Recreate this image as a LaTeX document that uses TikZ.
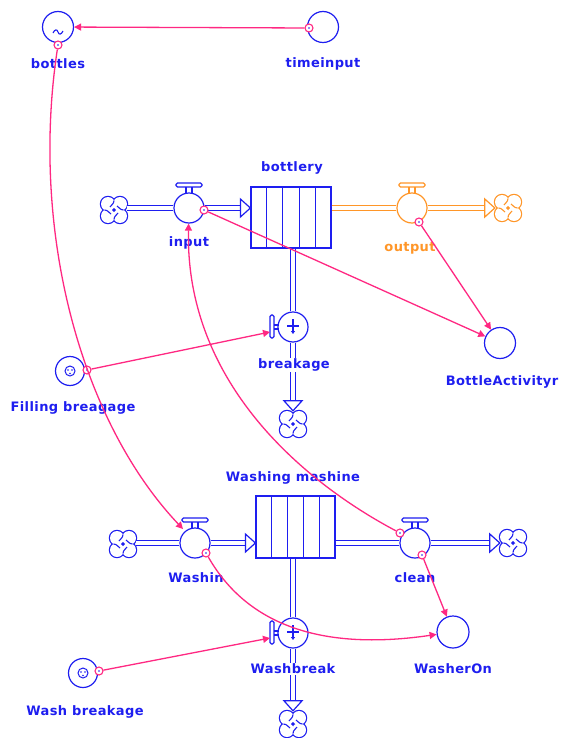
\documentclass[tikz,border=0pt]{standalone}
\usepackage{fontspec}
\newfontfamily\labfont[LetterSpace=3]{DejaVu Sans Bold}
\usetikzlibrary{arrows.meta,calc}
\definecolor{sblue}{RGB}{30,30,240}
\definecolor{spink}{RGB}{255,40,130}
\definecolor{sorange}{RGB}{255,150,40}
\tikzset{
  fhead/.pic={\draw[line width=1.2pt, fill=white, line join=miter] (-10,-9) -- (0,0) -- (-10,9) -- cycle;},
  tophandle/.pic={\draw[line width=1.2pt, fill=white, rounded corners=1.5pt] (-13,-25) rectangle (13,-21);
                  \draw[line width=1.1pt] (-3,-21) -- (-3,-14.5) (3,-21) -- (3,-14.5);},
  sidehandle/.pic={\draw[line width=1.2pt, fill=white, rounded corners=1.5pt] (-23,-12) rectangle (-19,11);
                   \draw[line width=1.1pt] (-19,-2) -- (-14,-2) (-19,2) -- (-14,2);},
  sinksym/.pic={\draw[line width=1.1pt] (-6,-1) -- (6,-1);
                \draw[line width=1.1pt, -{Triangle[length=3pt,width=4pt]}] (0,-8) -- (0,7);},
  constsym/.pic={\draw[line width=1pt] (0,0) circle (5);
                 \fill (-2,-1) circle (0.9) (2,-1) circle (0.9) (0,2.5) circle (0.9);},
  cloudpic/.pic={
     \draw[line width=2.4pt] (6,6) circle (7) (-6,6) circle (7) (6,-6) circle (7) (-6,-6) circle (7);
     \fill[white] (6,6) circle (7) (-6,6) circle (7) (6,-6) circle (7) (-6,-6) circle (7);
     \draw[line width=1.1pt] (0,-9.6) .. controls (0,-6) and (-3,-5) .. (-4,-3)
                             (9.6,0) .. controls (6,0) and (5,-3) .. (3,-4)
                             (0,9.6) .. controls (0,6) and (3,5) .. (4,3)
                             (-9.6,0) .. controls (-6,0) and (-5,3) .. (-3,4);},
}
\begin{document}
\begin{tikzpicture}[x=1pt,y=-1pt,
  lab/.style={font=\labfont\fontsize{13}{15}\selectfont, text=sblue, inner sep=1pt},
  conv/.style={circle, draw=sblue, line width=1.2pt, minimum size=31pt, inner sep=0pt, fill=white},
  valve/.style={circle, draw=sblue, line width=1.2pt, minimum size=30pt, inner sep=0pt, fill=white},
  stock/.style={rectangle, draw=sblue, line width=1.2pt, fill=white, inner sep=0pt},
  pipe/.style={draw=sblue, double=white, double distance=3.5pt, line width=1.2pt},
  opipe/.style={draw=sorange, double=white, double distance=3.5pt, line width=1.2pt},
  cloudn/.style={circle, minimum size=26pt, inner sep=0pt},
  link/.style={draw=spink, line width=1.3pt, -{Triangle[length=7pt,width=7pt]}},
  ring/.style={circle, draw=spink, line width=1.1pt, minimum size=8pt, inner sep=0pt, fill=white},
]
\useasboundingbox (0,0) rectangle (565,738);
\fill[white] (0,0) rectangle (565,738);

% ---------- top converters
\node[conv] (bottles) at (58,27) {};
\draw[sblue, line width=1.1pt] (53,33) .. controls (55,29) and (57,29) .. (58,32) .. controls (59,35) and (61,35) .. (63,31);
\node[lab] (lbottles) at (58,64) {bottles};
\node[conv] (timeinput) at (323,27) {};
\node[lab] (ltimeinput) at (323,64) {timeinput};

% ---------- bottlery row
\node[cloudn] (cl1) at (114,210) {};
\pic[color=sblue] at (cl1) {cloudpic};
\node[valve] (input) at (189,208) {};
\node[stock, minimum width=80pt, minimum height=61pt] (bottlery) at (291,217.5) {};
\foreach \i in {1,...,4}
  \draw[sblue, line width=1.2pt] ($(bottlery.north west)!\i/5!(bottlery.north east)$) -- ($(bottlery.south west)!\i/5!(bottlery.south east)$);
\node[lab] (lbottlery) at (292,168) {bottlery};
\node[valve, draw=sorange] (output) at (412,208) {};
\node[cloudn] (cl2) at (508,208) {};
\pic[color=sorange] at (cl2) {cloudpic};
\node[lab] (linput) at (189,243) {input};
\node[lab, text=sorange] (loutput) at (410,248) {output};

\draw[pipe] (cl1.east |- input) -- (input.west);
\draw[pipe] (input.east) -- ($(bottlery.west |- input)+(-9,0)$);
\pic[color=sblue] at (bottlery.west |- input) {fhead};
\draw[opipe] (bottlery.east |- output) -- (output.west);
\draw[opipe] (output.east) -- ($(cl2.west)+(-9,0)$);
\pic[color=sorange] at (cl2.west) {fhead};
\pic[color=sblue] at (input) {tophandle};
\pic[color=sorange] at (output) {tophandle};

% ---------- breakage
\node[valve] (breakage) at (293,327) {};
\pic[color=sblue] at (breakage) {sinksym};
\pic[color=sblue] at (breakage) {sidehandle};
\node[cloudn] (cl5) at (293,424) {};
\pic[color=sblue] at (cl5) {cloudpic};
\draw[pipe] (bottlery.south -| breakage) -- (breakage.north);
\draw[pipe] (breakage.south) -- ($(cl5.north)+(0,-9)$);
\pic[color=sblue, rotate=-90] at (cl5.north) {fhead};
\node[lab, fill=white] (lbreakage) at (294,365) {breakage};

\node[conv] (bact) at (500,343) {};
\node[lab] (lbact) at (502,382) {BottleActivityr};
\node[conv, minimum size=29pt] (filling) at (70,371) {};
\pic[color=sblue] at (filling) {constsym};
\node[lab] (lfilling) at (73,408) {Filling breagage};

% ---------- washing row
\node[cloudn] (cl3) at (123,544) {};
\pic[color=sblue] at (cl3) {cloudpic};
\node[valve] (washin) at (195,543) {};
\node[stock, minimum width=79pt, minimum height=62pt] (washing) at (295.5,527) {};
\foreach \i in {1,...,4}
  \draw[sblue, line width=1.2pt] ($(washing.north west)!\i/5!(washing.north east)$) -- ($(washing.south west)!\i/5!(washing.south east)$);
\node[lab] (lwashing) at (293,478) {Washing mashine};
\node[valve] (clean) at (415,543) {};
\node[cloudn] (cl4) at (513,543) {};
\pic[color=sblue] at (cl4) {cloudpic};
\node[lab] (lwashin) at (196,578) {Washin};
\node[lab] (lclean) at (415,578) {clean};

\draw[pipe] (cl3.east |- washin) -- (washin.west);
\draw[pipe] (washin.east) -- ($(washing.west |- washin)+(-9,0)$);
\pic[color=sblue] at (washing.west |- washin) {fhead};
\draw[pipe] (washing.east |- clean) -- (clean.west);
\draw[pipe] (clean.east) -- ($(cl4.west)+(-9,0)$);
\pic[color=sblue] at (cl4.west) {fhead};
\pic[color=sblue] at (washin) {tophandle};
\pic[color=sblue] at (clean) {tophandle};

% ---------- washbreak
\node[valve] (washbreak) at (293,633) {};
\pic[color=sblue] at (washbreak) {sinksym};
\pic[color=sblue] at (washbreak) {sidehandle};
\node[cloudn] (cl6) at (293,724) {};
\pic[color=sblue] at (cl6) {cloudpic};
\draw[pipe] (washing.south -| washbreak) -- (washbreak.north);
\draw[pipe] (washbreak.south) -- ($(cl6.north)+(0,-9)$);
\pic[color=sblue, rotate=-90] at (cl6.north) {fhead};
\node[lab, fill=white] (lwashbreak) at (293,669) {Washbreak};

\node[conv, minimum size=32pt] (washeron) at (453,632) {};
\node[lab] (lwasheron) at (453,669) {WasherOn};
\node[conv, minimum size=29pt] (washbrk) at (83,673) {};
\pic[color=sblue] at (washbrk) {constsym};
\node[lab] (lwashbrk) at (85,712) {Wash breakage};

% ---------- connector start rings
\node[ring] (rtime) at (309,28) {};
\node[ring] (rbottles) at (58,45) {};
\node[ring] (rin) at (204,210) {};
\node[ring] (rout) at (419,222) {};
\node[ring] (rfill) at (87,370) {};
\node[ring] (rwashin) at (206,553) {};
\node[ring] (rclean) at (400,533) {};
\node[ring] (rclean2) at (422,555) {};
\node[ring] (rwashbrk) at (99,671) {};
\foreach \r in {rtime,rbottles,rin,rout,rfill,rwashin,rclean,rclean2,rwashbrk}
  \fill[sblue] (\r) circle (0.9);

\coordinate (brh) at ($(breakage)+(-23,5)$);
\coordinate (wbh) at ($(washbreak)+(-23,5)$);
\coordinate (wintop) at ($(washin)+(-12,-14)$);

% ---------- connectors
\draw[link] (rtime) -- (bottles);
\draw[link] (rin) -- (bact);
\draw[link] (rout) -- (bact);
\draw[link] (rfill) -- (brh);
\draw[link] (rwashbrk) -- (wbh);
\draw[link] (rclean2) -- (washeron);
\draw[link] (rbottles) .. controls (30,230) and (80,420) .. (wintop);
\draw[link] (rclean) .. controls (300,480) and (185,380) .. (input);
\draw[link] (rwashin) .. controls (250,630) and (330,650) .. (washeron);
\end{tikzpicture}
\end{document}
